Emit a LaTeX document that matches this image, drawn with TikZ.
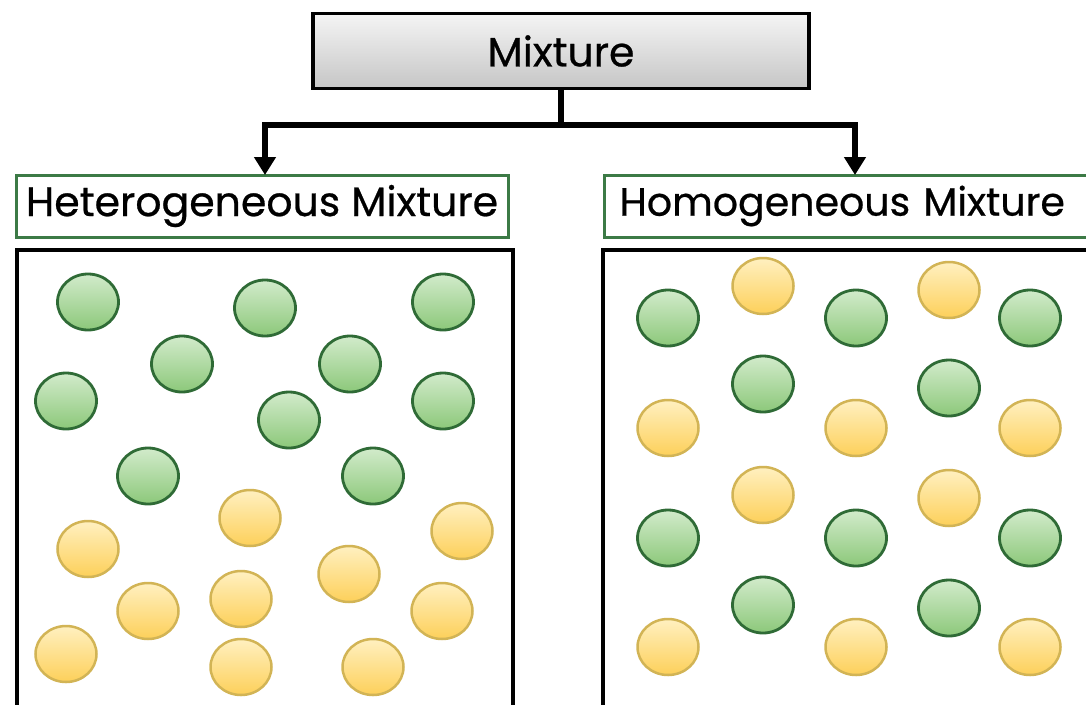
\documentclass[tikz,border=0pt]{standalone}
\usepackage{fontspec}
\setmainfont{Poppins}[FakeBold=0.6]
\usetikzlibrary{arrows.meta,shapes.geometric}
\definecolor{gline}{HTML}{2F6B36}
\definecolor{gtop}{HTML}{D2EBCB}
\definecolor{gbot}{HTML}{8CC87A}
\definecolor{yline}{HTML}{D2B455}
\definecolor{ytop}{HTML}{FFF0C0}
\definecolor{ybot}{HTML}{FDD05A}
\definecolor{lblgreen}{HTML}{3C7A46}
\tikzset{
  x=1pt,y=-1pt,
  gball/.style={ellipse,draw=gline,line width=2.8pt,minimum width=61pt,minimum height=56pt,inner sep=0pt,top color=gtop,bottom color=gbot},
  yball/.style={ellipse,draw=yline,line width=2.5pt,minimum width=61pt,minimum height=56pt,inner sep=0pt,top color=ytop,bottom color=ybot},
  topbox/.style={draw=black,line width=3.5pt,top color=gray!8,bottom color=gray!45,minimum width=496pt,minimum height=75pt,inner sep=0pt,font=\fontsize{41}{48}\selectfont},
  lblbox/.style={draw=lblgreen,line width=3pt,fill=white,minimum height=62pt,inner sep=0pt,font=\fontsize{41}{48}\selectfont},
  panel/.style={draw=black,line width=3.8pt},
  conn/.style={line width=5.5pt,line cap=butt},
  arr/.style={conn,-{Triangle[width=21pt,length=18pt]}}
}
\begin{document}
\begin{tikzpicture}
\useasboundingbox (0,0) rectangle (1086,704);
\clip (0,0) rectangle (1086,704);
\fill[white] (0,0) rectangle (1086,704);
% panels
\draw[panel] (17,250) rectangle (513,760);
\draw[panel] (603,250) rectangle (1120,760);
% top node
\node[topbox] (mix) at (561,51) {Mixture};
\node[lblbox,minimum width=492pt] (het) at (262,206) {Heterogeneous Mixture};
\node[lblbox,minimum width=520pt,text width=500pt,align=left,anchor=west,font=\fontsize{39.5}{46}\selectfont] (hom) at (603,206) {\hspace*{5pt}Homogeneous Mixture};
\coordinate (j) at (561,125);
\coordinate (jl) at (265,125);
\coordinate (jr) at (855,125);
\coordinate (hett) at (265,175);
\coordinate (homt) at (855,175);
\draw[conn] (mix.south -| j) -- (j);
\draw[conn] ([xshift=-2.75pt]jl) -- ([xshift=2.75pt]jr);
\draw[arr] (jl) -- (hett);
\draw[arr] (jr) -- (homt);
% left panel green
\node[gball] (lg1) at (88,302) {};
\node[gball] (lg2) at (265,308) {};
\node[gball] (lg3) at (443,302) {};
\node[gball] (lg4) at (182,364) {};
\node[gball] (lg5) at (350,364) {};
\node[gball] (lg6) at (66,401) {};
\node[gball] (lg7) at (289,420) {};
\node[gball] (lg8) at (443,401) {};
\node[gball] (lg9) at (148,476) {};
\node[gball] (lg10) at (373,476) {};
% left panel yellow
\node[yball] (ly1) at (88,549) {};
\node[yball] (ly2) at (250,518) {};
\node[yball] (ly3) at (462,531) {};
\node[yball] (ly4) at (349,574) {};
\node[yball] (ly5) at (148,611) {};
\node[yball] (ly6) at (241,599) {};
\node[yball] (ly7) at (442,611) {};
\node[yball] (ly8) at (66,654) {};
\node[yball] (ly9) at (241,667) {};
\node[yball] (ly10) at (373,667) {};
% right panel green
\node[gball] (rg1) at (668,318) {};
\node[gball] (rg2) at (856,318) {};
\node[gball] (rg3) at (1030,318) {};
\node[gball] (rg4) at (763,384) {};
\node[gball] (rg5) at (949,388) {};
\node[gball] (rg6) at (668,538) {};
\node[gball] (rg7) at (856,538) {};
\node[gball] (rg8) at (1030,538) {};
\node[gball] (rg9) at (763,605) {};
\node[gball] (rg10) at (949,608) {};
% right panel yellow
\node[yball] (ry1) at (763,286) {};
\node[yball] (ry2) at (949,290) {};
\node[yball] (ry3) at (668,428) {};
\node[yball] (ry4) at (856,428) {};
\node[yball] (ry5) at (1030,428) {};
\node[yball] (ry6) at (763,495) {};
\node[yball] (ry7) at (949,498) {};
\node[yball] (ry8) at (668,647) {};
\node[yball] (ry9) at (856,647) {};
\node[yball] (ry10) at (1030,647) {};
\end{tikzpicture}
\end{document}
